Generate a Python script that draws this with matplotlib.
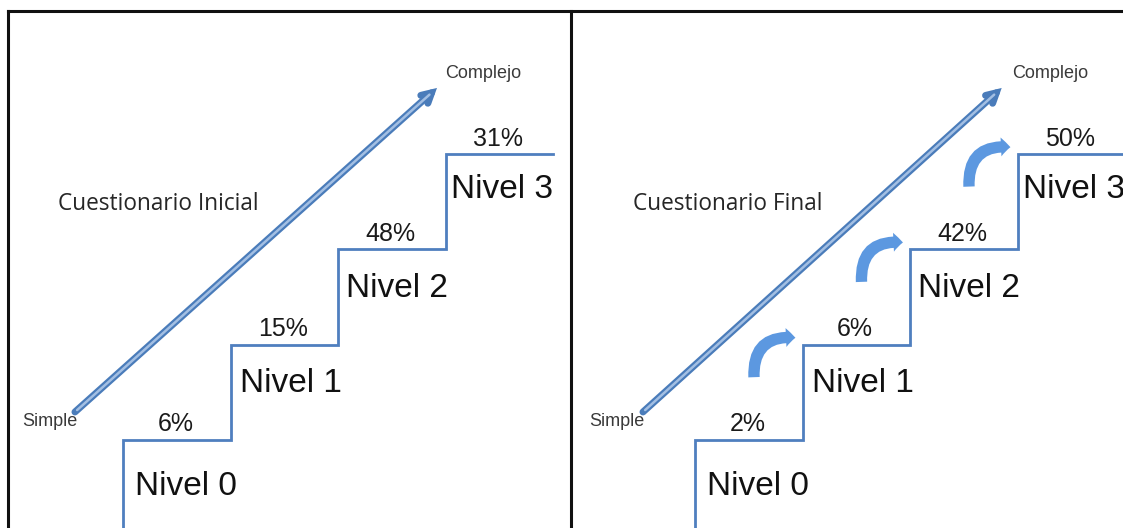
import matplotlib
matplotlib.use("Agg")
import matplotlib.pyplot as plt
from matplotlib.lines import Line2D
from matplotlib.patches import FancyArrowPatch

# ---- data ----
levels = ["Nivel 0", "Nivel 1", "Nivel 2", "Nivel 3"]
initial_pct = [6, 15, 48, 31]
final_pct = [2, 6, 42, 50]
panel_titles = ["Cuestionario Inicial", "Cuestionario Final"]
low_label = "Simple"
high_label = "Complejo"

W, H = 1123, 528
fig = plt.figure(figsize=(W / 100, H / 100), dpi=100)
fig.patch.set_facecolor("white")

STAIR = "#4f7fbf"
SANS = "Liberation Sans"
TITLE_FONT = "Open Sans"

# step width / height in px
SX, SY = 107.5, 95.3
TREAD0 = 440
NIVEL_DX = [0.11, 0.09, 0.07, 0.05]
NIVEL_DY = [-0.58, -0.5, -0.5, -0.46]


def make_panel(px_left, px_right, stair_x0, pcts):
    ax = fig.add_axes([px_left / W, 0, (px_right - px_left) / W, 1])
    ax.set_xlim((px_left - stair_x0) / SX, (px_right - stair_x0) / SX)
    ax.set_ylim((TREAD0 - H) / SY, TREAD0 / SY)
    ax.axis("off")
    n = len(levels)
    xs, ys = [0, 0], [-2, 0]
    for i in range(n):
        xs += [i + 1]
        ys += [i]
        if i < n - 1:
            xs += [i + 1]
            ys += [i + 1]
    ax.plot(xs, ys, color=STAIR, lw=2.0, solid_joinstyle="miter")
    for i, (lab, p) in enumerate(zip(levels, pcts)):
        ax.text(i + 0.49, i + 0.09, f"{p}%", ha="center", va="baseline",
                fontsize=18, family=SANS, color="#1a1a1a")
        ax.text(i + NIVEL_DX[i], i + NIVEL_DY[i], lab, ha="left", va="baseline",
                fontsize=24, family=SANS, color="#111111")
    return ax


def big_arrow(ax, x0, y0, x1, y1):
    ax.annotate("", xy=(x1, y1), xytext=(x0, y0),
                arrowprops=dict(arrowstyle="->,head_length=0.7,head_width=0.38",
                                lw=5, color="#4a7cba", shrinkA=0, shrinkB=0,
                                capstyle="round", joinstyle="miter"))
    ax.annotate("", xy=(x1 - 0.07, y1 - 0.07), xytext=(x0 + 0.02, y0 + 0.02),
                arrowprops=dict(arrowstyle="-", lw=1.8, color="#a3bfe3",
                                shrinkA=0, shrinkB=0))


def side_labels(ax, xs):
    ax.text(xs[0], 0.19, low_label, ha="left", va="center", fontsize=13,
            family=SANS, color="#3a3a3a")
    ax.text(xs[1], 3.80, high_label, ha="left", va="baseline", fontsize=13,
            family=SANS, color="#3a3a3a")


# left panel
axL = make_panel(0, 571, 123, initial_pct)
big_arrow(axL, -0.447, 0.294, 2.921, 3.694)
side_labels(axL, (-0.94, 2.995))
axL.text(-0.605, 2.413, panel_titles[0], ha="left", va="baseline",
         fontsize=16.3, family=TITLE_FONT, color="#262626")

# right panel
axR = make_panel(571, 1123, 695, final_pct)
big_arrow(axR, -0.484, 0.294, 2.853, 3.694)
side_labels(axR, (-0.986, 2.949))
axR.text(-0.577, 2.413, panel_titles[1], ha="left", va="baseline",
         fontsize=16.3, family=TITLE_FONT, color="#262626")
for i in range(len(levels) - 1):
    arr = FancyArrowPatch((i + 0.55, i + 0.63), (i + 0.96, i + 1.07),
                          connectionstyle="arc3,rad=-0.6",
                          arrowstyle="simple,head_length=0.4,head_width=0.8,tail_width=0.48",
                          mutation_scale=17, color="#5c98e0", lw=0)
    axR.add_patch(arr)


def fline(x0, y0, x1, y1):
    fig.add_artist(Line2D([x0 / W, x1 / W], [1 - y0 / H, 1 - y1 / H],
                          color="#111111", lw=2.2, transform=fig.transFigure))


fline(8, 11, W, 11)
fline(8, 11, 8, H)
fline(571, 11, 571, H)

fig.savefig("out.png", dpi=100, facecolor="white")
